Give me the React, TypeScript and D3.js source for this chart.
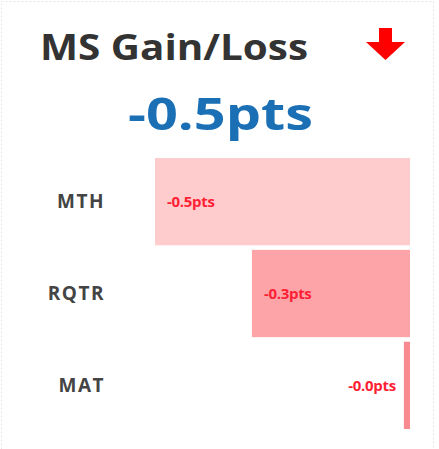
import * as d3 from 'd3'

const categories = ['MTH', 'RQTR', 'MAT']
const values = [-0.5, -0.31, -0.012]
const colors = ['#ffcccd', '#fda4a8', '#f98a8f']
const headline = '-0.5pts'

export default function App() {
  const width = 439
  const height = 449
  const x = d3.scaleLinear().domain([-0.5, 0]).range([155, 410])
  const y = d3.scaleBand().domain(categories).range([158, 429]).paddingInner(0.05)

  return (
    <svg width={width} height={height} style={{ position: 'absolute', left: 0, top: 0, background: '#fff' }}
      fontFamily="'Open Sans', sans-serif">
      <rect x={1.5} y={1.5} width={432} height={460} fill="none" stroke="#e6e6e6" strokeDasharray="2,2" />
      <text x={40} y={60} fontSize={36} fontWeight={700} fill="#333" textLength={268}
        lengthAdjust="spacingAndGlyphs">MS Gain/Loss</text>
      <path d="M379,28 L392,28 L392,42 L405,42 L385.5,60 L366,42 L379,42 Z" fill="#f00" />
      <text x={128} y={130} fontSize={45} fontWeight={700} fill="#1a6fb5" textLength={185}
        lengthAdjust="spacingAndGlyphs">{headline}</text>
      {categories.map((c, i) => {
        const y0 = y(c) || 0
        const x0 = x(values[i])
        const w = x(0) - x0
        const small = w < 60
        return (
          <g key={c}>
            <rect x={x0} y={y0} width={w} height={y.bandwidth()} fill={colors[i]} />
            <text x={105} y={y0 + y.bandwidth() / 2} dy="0.35em" textAnchor="end" fontSize={19}
              fontWeight={700} fill="#444" letterSpacing={1.5}>{c}</text>
            <text x={small ? x0 - 8 : x0 + 12} y={y0 + y.bandwidth() / 2} dy="0.35em"
              textAnchor={small ? 'end' : 'start'} fontSize={15} fontWeight={700} fill="#ff1f35"
              letterSpacing={-0.3}>{values[i].toFixed(1) === '0.0' ? '-0.0' : values[i].toFixed(1)}pts</text>
          </g>
        )
      })}
    </svg>
  )
}
